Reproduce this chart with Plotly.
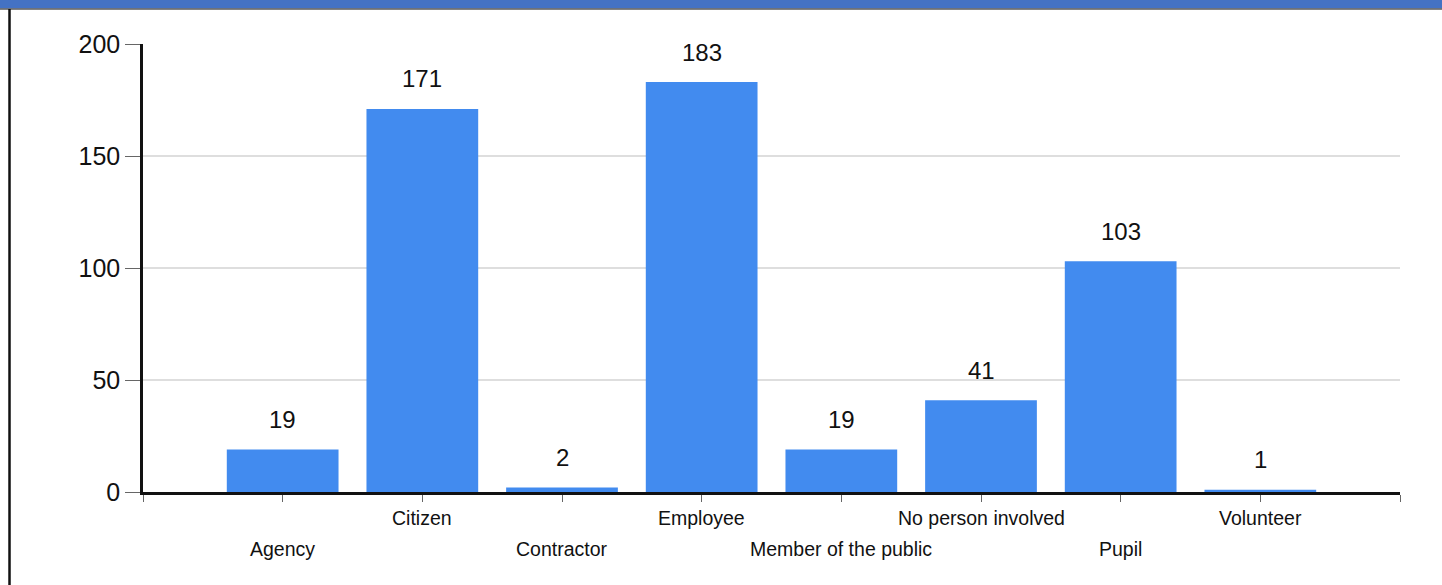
import plotly.graph_objects as go

# Incident counts by person type
categories = ["Agency", "Citizen", "Contractor", "Employee",
              "Member of the public", "No person involved", "Pupil", "Volunteer"]
counts = [19, 171, 2, 183, 19, 41, 103, 1]
y_ticks = [0, 50, 100, 150, 200]

FONT = "Arial, Liberation Sans, sans-serif"
BAR_COLOR = "#428BEF"

xpos = list(range(len(categories)))

fig = go.Figure(
    go.Bar(
        x=xpos,
        y=counts,
        marker=dict(color=BAR_COLOR, line=dict(width=0)),
        width=0.8,
        hoverinfo="x+y",
    )
)

annotations = []
# value labels above the bars
for x, v in zip(xpos, counts):
    annotations.append(dict(
        x=x, y=v, xref="x", yref="y", text=str(v), showarrow=False,
        yanchor="middle", yshift=30,
        font=dict(family=FONT, size=24, color="#111111"),
    ))
# staggered category labels under the axis
for x, name in zip(xpos, categories):
    annotations.append(dict(
        x=x, y=0, xref="x", yref="paper", text=name, showarrow=False,
        yanchor="middle", yshift=-57 if x % 2 == 0 else -26,
        font=dict(family=FONT, size=19.5, color="#111111"),
    ))

fig.update_layout(
    width=1442,
    height=585,
    margin=dict(l=143, r=42, t=44, b=93),
    paper_bgcolor="white",
    plot_bgcolor="white",
    showlegend=False,
    annotations=annotations,
    shapes=[
        # header band along the top edge
        dict(type="rect", xref="paper", yref="paper",
             x0=-0.2, x1=1.1, y0=1.079, y1=1.2,
             fillcolor="#4472C4", line=dict(width=0), layer="above"),
        dict(type="line", xref="paper", yref="paper",
             x0=-0.2, x1=1.1, y0=1.078, y1=1.078,
             line=dict(color="#5a5a5a", width=1.5), layer="above"),
        # frame line on the left edge
        dict(type="line", xref="paper", yref="paper",
             x0=-0.1062, x1=-0.1062, y0=-0.3, y1=1.078,
             line=dict(color="#111111", width=2.5), layer="above"),
    ],
)

fig.update_xaxes(
    range=[-1, 8],
    tickmode="array",
    tickvals=list(range(-1, 9)),
    ticktext=[""] * 10,
    ticks="outside",
    ticklen=7,
    tickcolor="#666666",
    tickwidth=1,
    showgrid=False,
    zeroline=False,
    showline=True,
    linecolor="#111111",
    linewidth=2.5,
    fixedrange=True,
)

fig.update_yaxes(
    range=[0, 200],
    tickmode="array",
    tickvals=y_ticks,
    ticktext=[str(t) for t in y_ticks],
    ticks="outside",
    ticklen=15,
    tickcolor="#666666",
    tickwidth=1,
    tickfont=dict(family=FONT, size=25, color="#111111"),
    showgrid=True,
    gridcolor="#dedede",
    gridwidth=2,
    zeroline=False,
    showline=True,
    linecolor="#111111",
    linewidth=2.5,
    fixedrange=True,
)

fig.write_html("out.html")
